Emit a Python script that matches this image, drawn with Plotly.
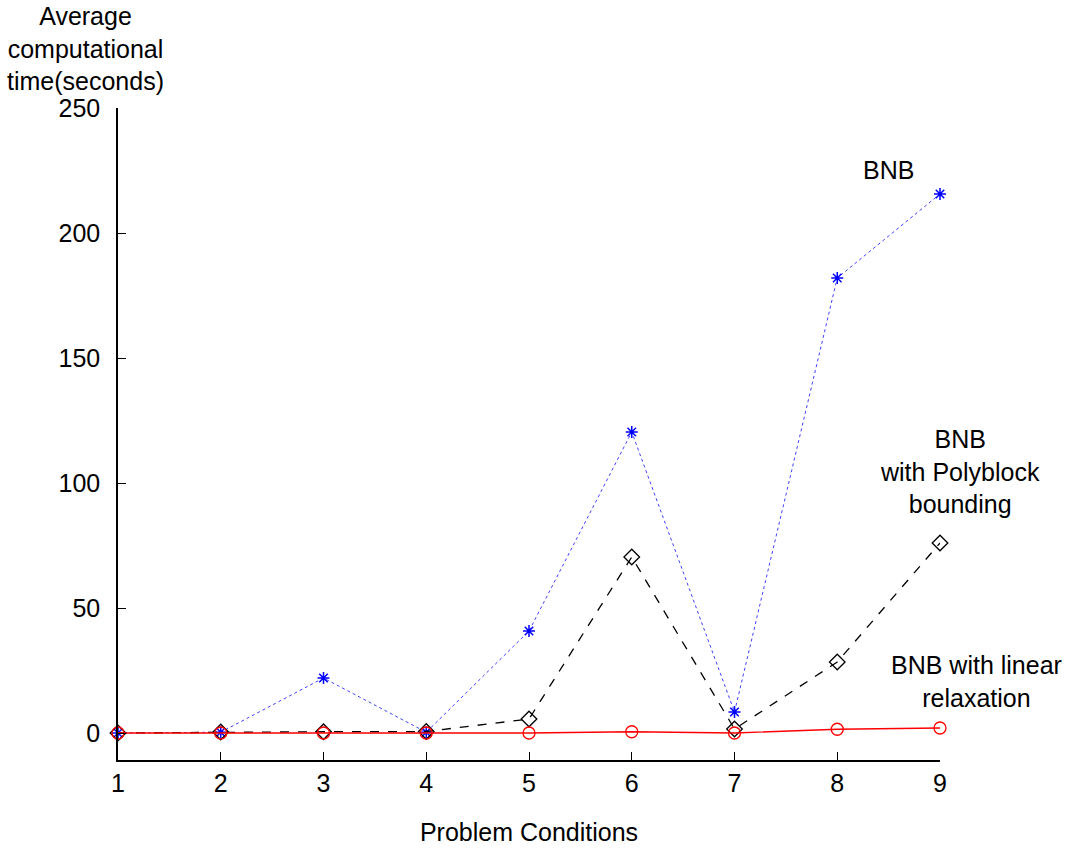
import plotly.graph_objects as go

conditions = [1, 2, 3, 4, 5, 6, 7, 8, 9]
bnb = [0, 0.3, 22, 0.3, 40.8, 120.4, 8.4, 182, 215.6]
bnb_poly = [0, 0.4, 0.5, 0.6, 5.6, 70.4, 1.6, 28.4, 76]
bnb_linear = [0, 0, 0, 0, 0, 0.5, 0, 1.5, 2]
y_ticks = [0, 50, 100, 150, 200, 250]

FONT = "Liberation Sans, Arial, sans-serif"
FS = 25

fig = go.Figure()
fig.add_trace(go.Scatter(
    x=conditions, y=bnb, mode="lines+markers",
    line=dict(color="#4040ff", width=1, dash="dot"),
    marker=dict(symbol="asterisk-open", size=10, color="blue", line=dict(color="blue", width=1.5)),
    showlegend=False, cliponaxis=False))
fig.add_trace(go.Scatter(
    x=conditions, y=bnb_poly, mode="lines+markers",
    line=dict(color="black", width=1.3, dash="dash"),
    marker=dict(symbol="diamond-open", size=12, color="black", line=dict(color="black", width=1.3)),
    showlegend=False, cliponaxis=False))
fig.add_trace(go.Scatter(
    x=conditions, y=bnb_linear, mode="lines+markers",
    line=dict(color="red", width=1.3),
    marker=dict(symbol="circle-open", size=12, color="red", line=dict(color="red", width=1.3)),
    showlegend=False, cliponaxis=False))

fig.update_layout(
    width=1073, height=850,
    margin=dict(l=118, r=133, t=108, b=90),
    plot_bgcolor="white", paper_bgcolor="white",
    font=dict(family=FONT, size=FS, color="black"),
    xaxis=dict(range=[1, 9], tickvals=conditions, showgrid=False, zeroline=False,
               showline=True, linecolor="black", linewidth=1.5,
               ticks="inside", ticklen=8, tickcolor="black", automargin=False,
               tickfont=dict(size=FS),
               title=dict(text="Problem Conditions", standoff=28, font=dict(size=FS))),
    yaxis=dict(range=[-10.8, 250], tickvals=y_ticks, showgrid=False, zeroline=False,
               showline=True, linecolor="black", linewidth=1.5, automargin=False,
               ticks="inside", ticklen=8, tickcolor="black", ticklabelstandoff=11,
               tickfont=dict(size=FS)),
)

def note(x, y, text):
    fig.add_annotation(xref="paper", yref="paper", x=x, y=y, xanchor="center", yanchor="middle",
                       text=text, showarrow=False, align="center", font=dict(size=FS))

note(-0.040, 1.0905, "Average<br>computational<br>time(seconds)")
note(0.937, 0.905, "BNB")
note(1.024, 0.442, "BNB<br>with Polyblock<br>bounding")
note(1.045, 0.121, "BNB with linear<br>relaxation")

fig.write_html("out.html", config={"displayModeBar": False},
               post_script="document.body.style.margin='0';")
